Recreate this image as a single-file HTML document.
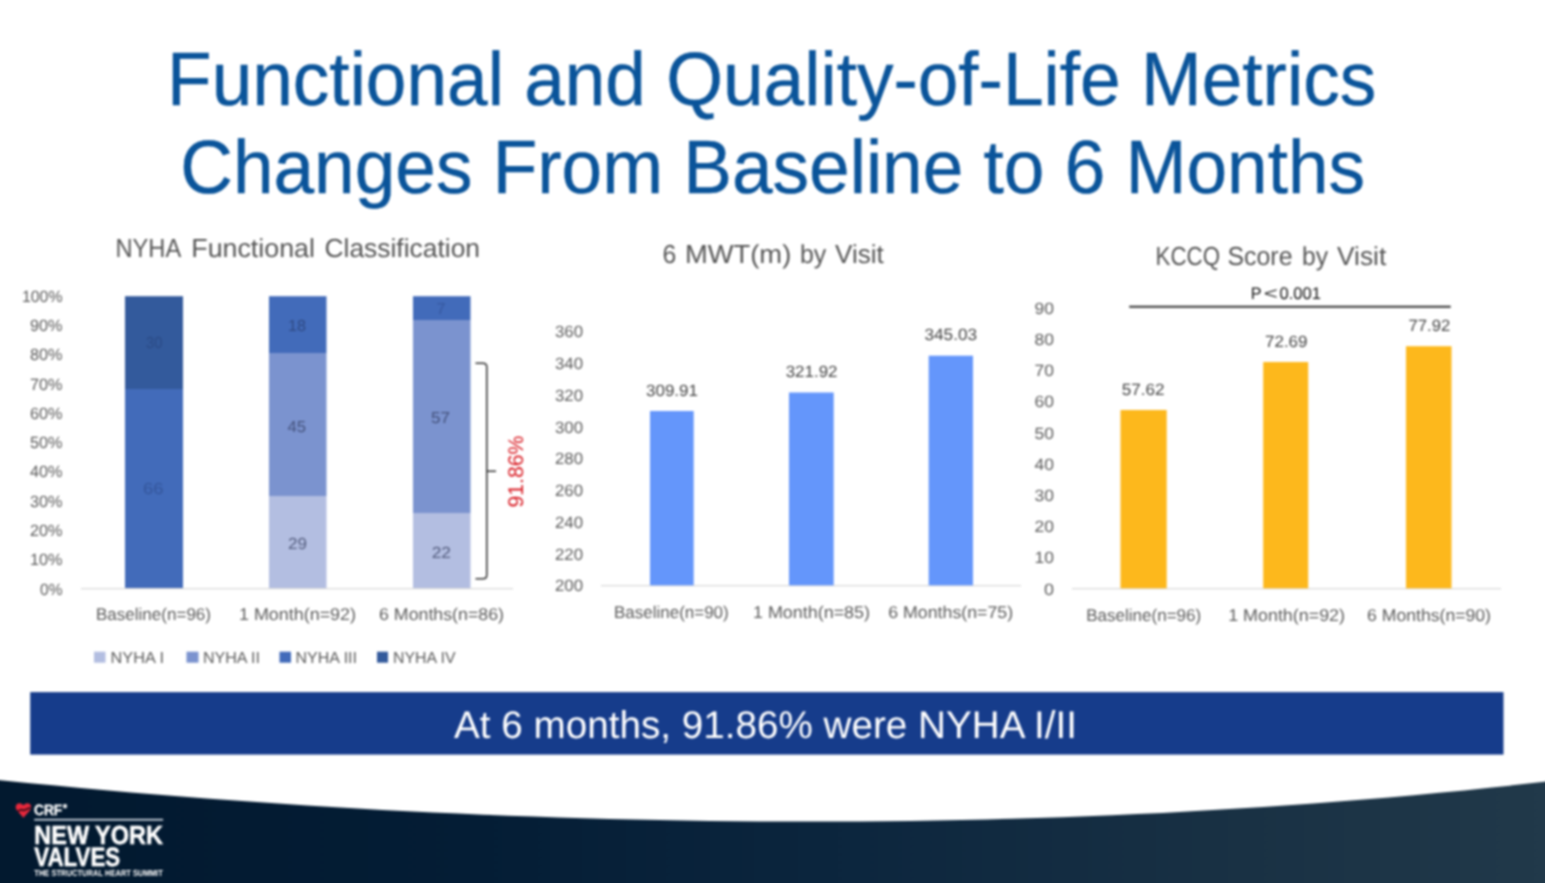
<!DOCTYPE html>
<html lang="en"><head><meta charset="utf-8"><title>Functional and Quality-of-Life Metrics</title>
<style>
html,body{margin:0;padding:0;background:#fff;}
body{width:1545px;height:883px;overflow:hidden;font-family:"Liberation Sans", sans-serif;}
svg{display:block;}
</style></head><body>
<svg width="1545" height="883" viewBox="0 0 1545 883" font-family='"Liberation Sans", sans-serif' text-rendering="geometricPrecision">
<defs><filter id="soft" x="-2%" y="-2%" width="104%" height="104%" color-interpolation-filters="sRGB"><feGaussianBlur stdDeviation="0.8"/></filter><linearGradient id="fg" gradientUnits="userSpaceOnUse" x1="0" y1="0" x2="1545" y2="0"><stop offset="0" stop-color="#02192f"/><stop offset="0.3" stop-color="#041d35"/><stop offset="0.55" stop-color="#0c263e"/><stop offset="0.8" stop-color="#193144"/><stop offset="1" stop-color="#21394a"/></linearGradient></defs>
<g filter="url(#soft)">
<polygon points="-20.0,778.2 5.2,780.7 30.3,783.2 55.5,785.6 80.6,788.0 105.8,790.2 131.0,792.4 156.1,794.5 181.3,796.5 206.4,798.5 231.6,800.3 256.7,802.1 281.9,803.8 307.1,805.5 332.2,807.0 357.4,808.5 382.5,809.9 407.7,811.2 432.9,812.5 458.0,813.6 483.2,814.7 508.3,815.7 533.5,816.6 558.7,817.5 583.8,818.3 609.0,819.0 634.1,819.6 659.3,820.1 684.4,820.6 709.6,820.9 734.8,821.2 759.9,821.4 785.1,821.5 810.2,821.6 835.4,821.5 860.6,821.4 885.7,821.2 910.9,820.9 936.0,820.5 961.2,820.0 986.3,819.4 1011.5,818.8 1036.7,818.0 1061.8,817.2 1087.0,816.2 1112.1,815.2 1137.3,814.1 1162.5,812.9 1187.6,811.6 1212.8,810.1 1237.9,808.6 1263.1,807.0 1288.3,805.3 1313.4,803.5 1338.6,801.6 1363.7,799.6 1388.9,797.4 1414.0,795.2 1439.2,792.8 1464.4,790.4 1489.5,787.8 1514.7,785.1 1539.8,782.3 1565.0,779.4 1565,903 -20,903" fill="url(#fg)"/>
<text transform="translate(771.6 104.6) scale(1 1.035)" font-size="73" fill="#0a549a" stroke="#0a549a" stroke-width="0.4" text-anchor="middle">Functional and Quality-of-Life Metrics</text>
<text transform="translate(772.6 192.6) scale(1 1.035)" font-size="73" fill="#0a549a" stroke="#0a549a" stroke-width="0.4" text-anchor="middle">Changes From Baseline to 6 Months</text>
<text x="115.50" y="257.44" font-size="26" fill="#555555" font-weight="normal" textLength="65.75" lengthAdjust="spacingAndGlyphs" >NYHA</text>
<text x="191.25" y="257.44" font-size="26" fill="#555555" font-weight="normal" textLength="123.75" lengthAdjust="spacingAndGlyphs" >Functional</text>
<text x="324.50" y="257.44" font-size="26" fill="#555555" font-weight="normal" textLength="155.50" lengthAdjust="spacingAndGlyphs" >Classification</text>
<text x="662.50" y="262.94" font-size="26" fill="#555555" font-weight="normal" textLength="13.75" lengthAdjust="spacingAndGlyphs" >6</text>
<text x="685.00" y="262.94" font-size="26" fill="#555555" font-weight="normal" textLength="106.25" lengthAdjust="spacingAndGlyphs" >MWT(m)</text>
<text x="800.00" y="262.94" font-size="26" fill="#555555" font-weight="normal" textLength="26.25" lengthAdjust="spacingAndGlyphs" >by</text>
<text x="835.00" y="262.94" font-size="26" fill="#555555" font-weight="normal" textLength="48.75" lengthAdjust="spacingAndGlyphs" >Visit</text>
<text x="1155.50" y="265.34" font-size="26" fill="#555555" font-weight="normal" textLength="64.50" lengthAdjust="spacingAndGlyphs" >KCCQ</text>
<text x="1227.50" y="265.34" font-size="26" fill="#555555" font-weight="normal" textLength="65.00" lengthAdjust="spacingAndGlyphs" >Score</text>
<text x="1302.00" y="265.34" font-size="26" fill="#555555" font-weight="normal" textLength="26.00" lengthAdjust="spacingAndGlyphs" >by</text>
<text x="1337.00" y="265.34" font-size="26" fill="#555555" font-weight="normal" textLength="49.25" lengthAdjust="spacingAndGlyphs" >Visit</text>
<text x="40.00" y="594.61" font-size="16.3" fill="#5c5c5c" font-weight="normal" textLength="22.50" lengthAdjust="spacingAndGlyphs" >0%</text>
<text x="30.00" y="565.31" font-size="16.3" fill="#5c5c5c" font-weight="normal" textLength="32.50" lengthAdjust="spacingAndGlyphs" >10%</text>
<text x="30.00" y="536.01" font-size="16.3" fill="#5c5c5c" font-weight="normal" textLength="32.50" lengthAdjust="spacingAndGlyphs" >20%</text>
<text x="30.00" y="506.71" font-size="16.3" fill="#5c5c5c" font-weight="normal" textLength="32.50" lengthAdjust="spacingAndGlyphs" >30%</text>
<text x="30.00" y="477.41" font-size="16.3" fill="#5c5c5c" font-weight="normal" textLength="32.50" lengthAdjust="spacingAndGlyphs" >40%</text>
<text x="30.00" y="448.11" font-size="16.3" fill="#5c5c5c" font-weight="normal" textLength="32.50" lengthAdjust="spacingAndGlyphs" >50%</text>
<text x="30.00" y="418.81" font-size="16.3" fill="#5c5c5c" font-weight="normal" textLength="32.50" lengthAdjust="spacingAndGlyphs" >60%</text>
<text x="30.00" y="389.51" font-size="16.3" fill="#5c5c5c" font-weight="normal" textLength="32.50" lengthAdjust="spacingAndGlyphs" >70%</text>
<text x="30.00" y="360.21" font-size="16.3" fill="#5c5c5c" font-weight="normal" textLength="32.50" lengthAdjust="spacingAndGlyphs" >80%</text>
<text x="30.00" y="330.91" font-size="16.3" fill="#5c5c5c" font-weight="normal" textLength="32.50" lengthAdjust="spacingAndGlyphs" >90%</text>
<text x="22.00" y="301.61" font-size="16.3" fill="#5c5c5c" font-weight="normal" textLength="40.50" lengthAdjust="spacingAndGlyphs" >100%</text>
<rect x="81.00" y="588.00" width="432.00" height="1.30" fill="#d9d9d9" />
<rect x="125.00" y="296.20" width="58.00" height="92.80" fill="#335a9c" />
<rect x="125.00" y="389.00" width="58.00" height="199.00" fill="#426bba" />
<rect x="269.00" y="296.20" width="57.50" height="56.80" fill="#426bba" />
<rect x="269.00" y="353.00" width="57.50" height="143.00" fill="#7b93cf" />
<rect x="269.00" y="496.00" width="57.50" height="92.00" fill="#b3bee1" />
<rect x="413.00" y="296.20" width="57.50" height="23.80" fill="#426bba" />
<rect x="413.00" y="320.00" width="57.50" height="193.00" fill="#7b93cf" />
<rect x="413.00" y="513.00" width="57.50" height="75.00" fill="#b3bee1" />
<text x="146.00" y="348.00" font-size="16" fill="#2b4a85" font-weight="normal" textLength="16.50" lengthAdjust="spacingAndGlyphs" >30</text>
<text x="143.00" y="494.20" font-size="16" fill="#34569b" font-weight="normal" textLength="20.50" lengthAdjust="spacingAndGlyphs" >66</text>
<text x="288.00" y="331.00" font-size="16" fill="#2f4a84" font-weight="normal" textLength="18.00" lengthAdjust="spacingAndGlyphs" >18</text>
<text x="287.50" y="431.50" font-size="16" fill="#44527c" font-weight="normal" textLength="18.50" lengthAdjust="spacingAndGlyphs" >45</text>
<text x="288.00" y="549.20" font-size="16" fill="#565f80" font-weight="normal" textLength="19.00" lengthAdjust="spacingAndGlyphs" >29</text>
<text x="436.50" y="314.20" font-size="16" fill="#36589f" font-weight="normal" textLength="9.00" lengthAdjust="spacingAndGlyphs" >7</text>
<text x="431.00" y="423.00" font-size="16" fill="#44527c" font-weight="normal" textLength="19.00" lengthAdjust="spacingAndGlyphs" >57</text>
<text x="431.70" y="558.00" font-size="16" fill="#565f80" font-weight="normal" textLength="19.30" lengthAdjust="spacingAndGlyphs" >22</text>
<text x="96.00" y="620.15" font-size="17" fill="#5c5c5c" font-weight="normal" textLength="115.00" lengthAdjust="spacingAndGlyphs" >Baseline(n=96)</text>
<text x="239.00" y="620.15" font-size="17" fill="#5c5c5c" font-weight="normal" textLength="117.00" lengthAdjust="spacingAndGlyphs" >1 Month(n=92)</text>
<text x="379.00" y="620.15" font-size="17" fill="#5c5c5c" font-weight="normal" textLength="125.00" lengthAdjust="spacingAndGlyphs" >6 Months(n=86)</text>
<rect x="94.00" y="651.70" width="11.50" height="11.00" fill="#b3bee1" />
<text x="110.50" y="662.70" font-size="16" fill="#5c5c5c" font-weight="normal" textLength="53.50" lengthAdjust="spacingAndGlyphs" >NYHA I</text>
<rect x="186.50" y="651.70" width="12.00" height="11.00" fill="#7b93cf" />
<text x="203.00" y="662.70" font-size="16" fill="#5c5c5c" font-weight="normal" textLength="57.00" lengthAdjust="spacingAndGlyphs" >NYHA II</text>
<rect x="279.50" y="651.70" width="11.50" height="11.00" fill="#426bba" />
<text x="295.50" y="662.70" font-size="16" fill="#5c5c5c" font-weight="normal" textLength="61.50" lengthAdjust="spacingAndGlyphs" >NYHA III</text>
<rect x="377.00" y="651.70" width="11.00" height="11.00" fill="#335a9c" />
<text x="393.00" y="662.70" font-size="16" fill="#5c5c5c" font-weight="normal" textLength="62.50" lengthAdjust="spacingAndGlyphs" >NYHA IV</text>
<path d="M475.5 363.2 H483 Q486.8 363.2 486.8 367 V575 Q486.8 578.8 483 578.8 H475.5 M486.8 471.3 H496" fill="none" stroke="#303030" stroke-width="1.5"/>
<text transform="translate(522.6 507.5) rotate(-90)" font-size="21.3" fill="#d81820" textLength="72" lengthAdjust="spacingAndGlyphs">91.86%</text>
<text x="555.00" y="591.41" font-size="16.3" fill="#5c5c5c" font-weight="normal" textLength="28.00" lengthAdjust="spacingAndGlyphs" >200</text>
<text x="555.00" y="559.66" font-size="16.3" fill="#5c5c5c" font-weight="normal" textLength="28.00" lengthAdjust="spacingAndGlyphs" >220</text>
<text x="555.00" y="527.91" font-size="16.3" fill="#5c5c5c" font-weight="normal" textLength="28.00" lengthAdjust="spacingAndGlyphs" >240</text>
<text x="555.00" y="496.16" font-size="16.3" fill="#5c5c5c" font-weight="normal" textLength="28.00" lengthAdjust="spacingAndGlyphs" >260</text>
<text x="555.00" y="464.41" font-size="16.3" fill="#5c5c5c" font-weight="normal" textLength="28.00" lengthAdjust="spacingAndGlyphs" >280</text>
<text x="555.00" y="432.66" font-size="16.3" fill="#5c5c5c" font-weight="normal" textLength="28.00" lengthAdjust="spacingAndGlyphs" >300</text>
<text x="555.00" y="400.91" font-size="16.3" fill="#5c5c5c" font-weight="normal" textLength="28.00" lengthAdjust="spacingAndGlyphs" >320</text>
<text x="555.00" y="369.16" font-size="16.3" fill="#5c5c5c" font-weight="normal" textLength="28.00" lengthAdjust="spacingAndGlyphs" >340</text>
<text x="555.00" y="337.41" font-size="16.3" fill="#5c5c5c" font-weight="normal" textLength="28.00" lengthAdjust="spacingAndGlyphs" >360</text>
<rect x="601.00" y="585.00" width="420.00" height="1.30" fill="#d9d9d9" />
<rect x="650.00" y="411.00" width="43.70" height="174.30" fill="#6496fb" />
<rect x="789.00" y="392.50" width="44.70" height="192.80" fill="#6496fb" />
<rect x="928.70" y="355.70" width="44.30" height="229.60" fill="#6496fb" />
<text x="646.00" y="396.11" font-size="16.3" fill="#444444" font-weight="normal" textLength="52.00" lengthAdjust="spacingAndGlyphs" >309.91</text>
<text x="785.70" y="377.11" font-size="16.3" fill="#444444" font-weight="normal" textLength="51.80" lengthAdjust="spacingAndGlyphs" >321.92</text>
<text x="924.50" y="340.11" font-size="16.3" fill="#444444" font-weight="normal" textLength="52.50" lengthAdjust="spacingAndGlyphs" >345.03</text>
<text x="614.00" y="617.65" font-size="17" fill="#5c5c5c" font-weight="normal" textLength="114.70" lengthAdjust="spacingAndGlyphs" >Baseline(n=90)</text>
<text x="753.00" y="617.65" font-size="17" fill="#5c5c5c" font-weight="normal" textLength="117.00" lengthAdjust="spacingAndGlyphs" >1 Month(n=85)</text>
<text x="888.20" y="617.65" font-size="17" fill="#5c5c5c" font-weight="normal" textLength="125.00" lengthAdjust="spacingAndGlyphs" >6 Months(n=75)</text>
<text x="1044.00" y="594.61" font-size="16.3" fill="#5c5c5c" font-weight="normal" textLength="10.00" lengthAdjust="spacingAndGlyphs" >0</text>
<text x="1034.50" y="563.39" font-size="16.3" fill="#5c5c5c" font-weight="normal" textLength="19.50" lengthAdjust="spacingAndGlyphs" >10</text>
<text x="1034.50" y="532.17" font-size="16.3" fill="#5c5c5c" font-weight="normal" textLength="19.50" lengthAdjust="spacingAndGlyphs" >20</text>
<text x="1034.50" y="500.95" font-size="16.3" fill="#5c5c5c" font-weight="normal" textLength="19.50" lengthAdjust="spacingAndGlyphs" >30</text>
<text x="1034.50" y="469.73" font-size="16.3" fill="#5c5c5c" font-weight="normal" textLength="19.50" lengthAdjust="spacingAndGlyphs" >40</text>
<text x="1034.50" y="438.51" font-size="16.3" fill="#5c5c5c" font-weight="normal" textLength="19.50" lengthAdjust="spacingAndGlyphs" >50</text>
<text x="1034.50" y="407.29" font-size="16.3" fill="#5c5c5c" font-weight="normal" textLength="19.50" lengthAdjust="spacingAndGlyphs" >60</text>
<text x="1034.50" y="376.07" font-size="16.3" fill="#5c5c5c" font-weight="normal" textLength="19.50" lengthAdjust="spacingAndGlyphs" >70</text>
<text x="1034.50" y="344.85" font-size="16.3" fill="#5c5c5c" font-weight="normal" textLength="19.50" lengthAdjust="spacingAndGlyphs" >80</text>
<text x="1034.50" y="313.63" font-size="16.3" fill="#5c5c5c" font-weight="normal" textLength="19.50" lengthAdjust="spacingAndGlyphs" >90</text>
<rect x="1072.00" y="588.00" width="429.00" height="1.30" fill="#d9d9d9" />
<rect x="1120.50" y="410.00" width="46.20" height="178.30" fill="#fdb81c" />
<rect x="1263.20" y="362.00" width="45.00" height="226.30" fill="#fdb81c" />
<rect x="1406.00" y="346.20" width="45.50" height="242.10" fill="#fdb81c" />
<text x="1121.70" y="394.61" font-size="16.3" fill="#444444" font-weight="normal" textLength="42.80" lengthAdjust="spacingAndGlyphs" >57.62</text>
<text x="1265.00" y="347.11" font-size="16.3" fill="#444444" font-weight="normal" textLength="42.50" lengthAdjust="spacingAndGlyphs" >72.69</text>
<text x="1408.50" y="330.61" font-size="16.3" fill="#444444" font-weight="normal" textLength="41.70" lengthAdjust="spacingAndGlyphs" >77.92</text>
<text x="1086.20" y="620.85" font-size="17" fill="#5c5c5c" font-weight="normal" textLength="115.00" lengthAdjust="spacingAndGlyphs" >Baseline(n=96)</text>
<text x="1228.20" y="620.85" font-size="17" fill="#5c5c5c" font-weight="normal" textLength="116.80" lengthAdjust="spacingAndGlyphs" >1 Month(n=92)</text>
<text x="1367.00" y="620.85" font-size="17" fill="#5c5c5c" font-weight="normal" textLength="124.00" lengthAdjust="spacingAndGlyphs" >6 Months(n=90)</text>
<rect x="1129.20" y="305.70" width="321.50" height="2.10" fill="#3a3a3a" />
<text x="1250.70" y="299.28" font-size="16.8" fill="#111111" font-weight="normal" textLength="10.80" lengthAdjust="spacingAndGlyphs" >P</text>
<text x="1263.70" y="299.28" font-size="16.8" fill="#222222" font-weight="normal" textLength="14.00" lengthAdjust="spacingAndGlyphs" >&lt;</text>
<text x="1279.50" y="299.28" font-size="16.8" fill="#111111" font-weight="normal" textLength="41.40" lengthAdjust="spacingAndGlyphs" >0.001</text>
<rect x="30.20" y="692.10" width="1473.30" height="62.50" fill="#163c8b" />
<text x="454.00" y="737.94" font-size="38.5" fill="#ffffff" font-weight="normal" textLength="623.00" lengthAdjust="spacingAndGlyphs" >At 6 months, 91.86% were NYHA I/II</text>
<path d="M23.4 817.8 L16.6 810 Q14.6 806.2 17 804 Q20.2 801.8 23.4 805.2 Q26.6 801.8 29.8 804 Q32.2 806.2 30.2 810 Z" fill="#e8283c"/>
<path d="M17.2 811.2 L21.5 809.6 L23.5 810.6 L30.6 807.6" fill="none" stroke="#3c0c1a" stroke-width="1.7"/>
<text x="34.00" y="815.46" font-size="15" fill="#ffffff" font-weight="bold" textLength="28.20" lengthAdjust="spacingAndGlyphs" stroke="#ffffff" stroke-width="0.3">CRF</text>
<text x="63" y="808.2" font-size="5.5" fill="#ffffff" font-weight="bold" stroke="#ffffff" stroke-width="0.3">®</text>
<rect x="34.20" y="818.90" width="128.90" height="1.60" fill="#dfe6ee" />
<text x="34.30" y="843.74" font-size="26" fill="#ffffff" font-weight="bold" textLength="128.60" lengthAdjust="spacingAndGlyphs" stroke="#ffffff" stroke-width="0.5">NEW YORK</text>
<text x="34.30" y="865.52" font-size="26.5" fill="#ffffff" font-weight="bold" textLength="85.80" lengthAdjust="spacingAndGlyphs" stroke="#ffffff" stroke-width="0.5">VALVES</text>
<text x="34.30" y="875.63" font-size="8.8" fill="#ffffff" font-weight="bold" textLength="128.50" lengthAdjust="spacingAndGlyphs" >THE STRUCTURAL HEART SUMMIT</text>
</g>
</svg>
</body></html>
